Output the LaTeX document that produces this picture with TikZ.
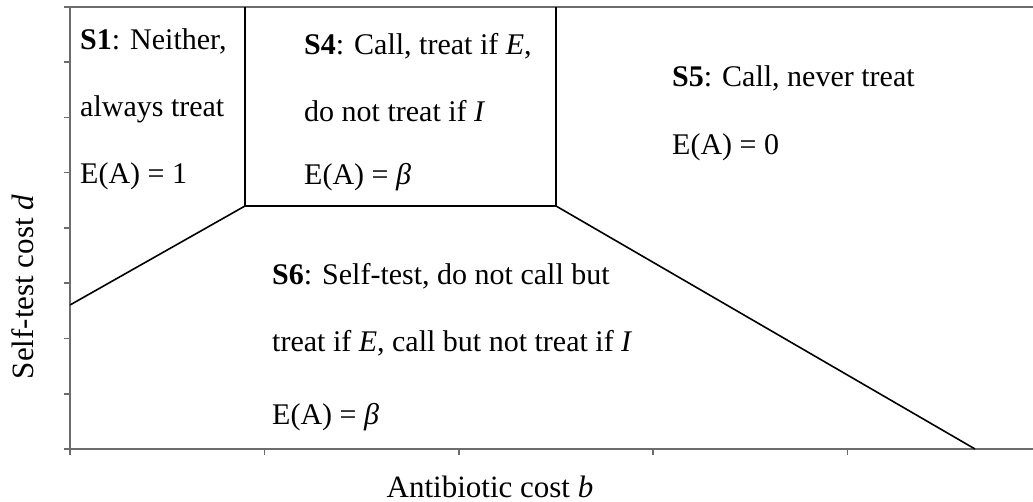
\documentclass[tikz,border=0pt]{standalone}
\usepackage{fontspec}
\setmainfont{Liberation Serif}
\begin{document}
\begin{tikzpicture}[x=1pt,y=-1pt,
  axis/.style={draw=gray!85!black,line width=2pt},
  tick/.style={draw=gray!85!black,line width=1.5pt},
  bound/.style={draw=black,line width=1.6pt},
  lbl/.style={anchor=base west,inner sep=0pt,font=\fontsize{30}{34}\selectfont},
  axlbl/.style={anchor=base,inner sep=0pt,font=\fontsize{31}{36}\selectfont}]
\useasboundingbox (0,0) rectangle (1033,502);
% axes frame
\coordinate (o) at (70,449);
\coordinate (tl) at (70,7);
\coordinate (tr) at (1033,7);
\coordinate (br) at (1033,449);
\draw[axis] (tr) -- (tl) -- (o) -- (br);
\foreach \k in {0,...,8} \draw[tick] (64,{7+55.25*\k}) -- (70,{7+55.25*\k});
\foreach \k in {0,...,4} \draw[tick] ({70+194.4*\k},449) -- ({70+194.4*\k},455);
% boundaries
\coordinate (a) at (70,305);
\coordinate (b) at (245,206);
\coordinate (bt) at (245,7);
\coordinate (c) at (556,206);
\coordinate (ct) at (556,7);
\coordinate (d) at (975,449);
\draw[bound] (a) -- (b) -- (c) -- (d);
\draw[bound] (bt) -- (b);
\draw[bound] (ct) -- (c);
% region labels
\node[lbl] (s1a) at (80,50) {\textbf{S1}: Neither,};
\node[lbl] (s1b) at (80,117) {always treat};
\node[lbl] (s1c) at (80,184) {E(A) = 1};
\node[lbl] (s4a) at (304,55) {\textbf{S4}: Call, treat if \textit{E},};
\node[lbl] (s4b) at (304,122) {do not treat if \textit{I}};
\node[lbl] (s4c) at (304,185) {E(A) = \textit{β}};
\node[lbl] (s5a) at (672,87) {\textbf{S5}: Call, never treat};
\node[lbl] (s5b) at (672,155) {E(A) = 0};
\node[lbl] (s6a) at (272,285) {\textbf{S6}: Self-test, do not call but};
\node[lbl] (s6b) at (272,352) {treat if \textit{E}, call but not treat if \textit{I}};
\node[lbl] (s6c) at (272,424) {E(A) = \textit{β}};
% axis labels
\node[axlbl] (xl) at (490,497) {Antibiotic cost \textit{b}};
\node[axlbl,rotate=90] (yl) at (33,287) {Self-test cost \textit{d}};
\end{tikzpicture}
\end{document}
